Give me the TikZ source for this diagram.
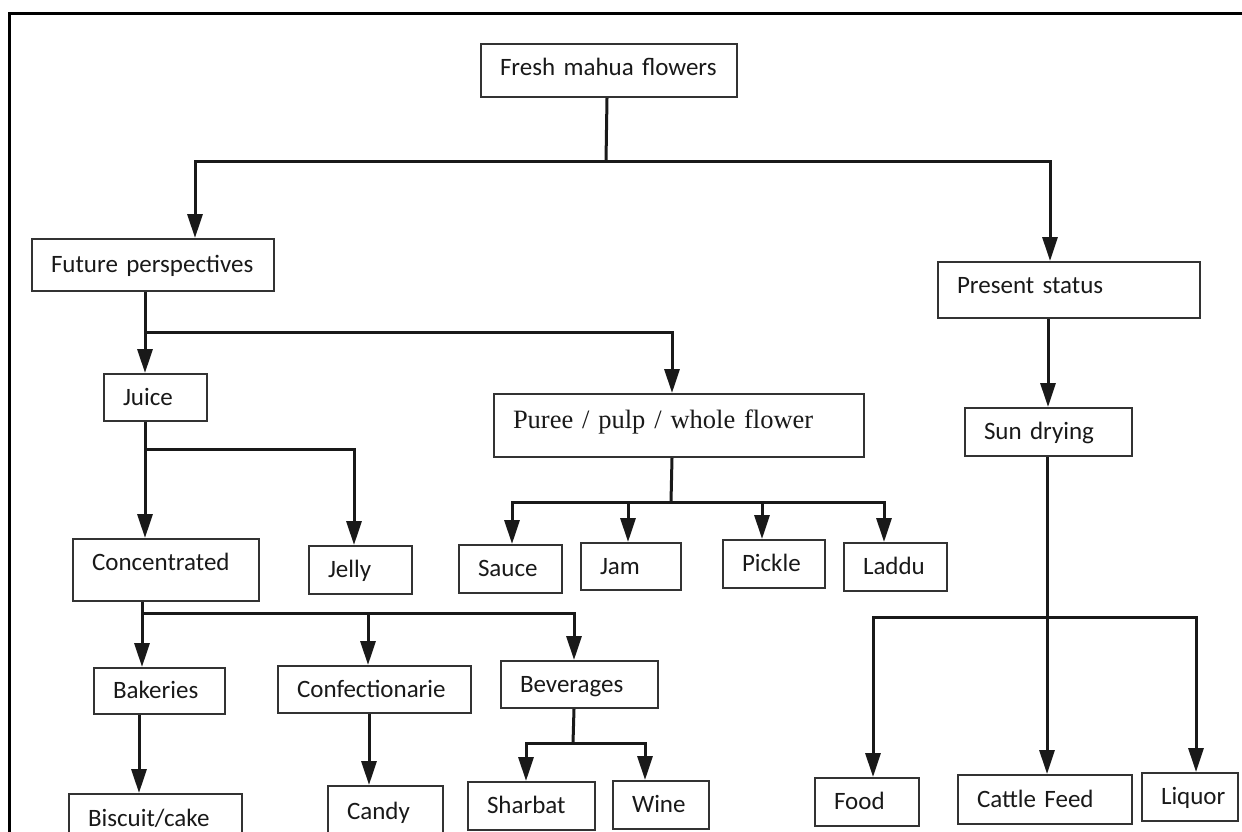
\documentclass[tikz,border=0pt]{standalone}
\usepackage{fontspec}
\setmainfont{Carlito}
\newfontfamily\pureefont{Liberation Serif}
\usepackage{tikz}
\usetikzlibrary{arrows.meta}
\tikzstyle{flowbox}=[draw=black!80, line width=2pt, anchor=north west, align=left, inner xsep=19pt, inner ysep=0pt, text=black!90, font=\fontsize{25}{30}\selectfont, text height=15.8pt, text depth=0pt]
\tikzstyle{trunk}=[line width=3pt, black!90]
\tikzstyle{arr}=[trunk, -{Triangle[length=24pt,width=15pt]}]

\begin{document}
\begin{tikzpicture}
        [x=1pt,y=-1pt]
            \useasboundingbox (0,0) rectangle (1242,831);
            \clip (0,0) rectangle (1242,831);
            \draw [line width=3pt] (9,860) -- (9,13) -- (1270,13);
            % top level
            \node [flowbox, text width=218pt, minimum height=53pt, text depth=6pt] (fresh) at (480,43) {Fresh mahua flowers};
            \node [flowbox, text width=204pt, minimum height=52pt] (future) at (31,238) {Future perspectives};
            \node [flowbox, text width=224pt, minimum height=56pt, text depth=8pt] (present) at (937,261) {Present status};
            % second level
            \node [flowbox, text width=65pt, minimum height=47pt] (juice) at (103,373) {Juice};
            \node [flowbox, text width=332pt, minimum height=63pt, font=\pureefont\fontsize{26.5}{31}\selectfont, text height=17.5pt, text depth=11pt] (puree) at (493,393) {Puree / pulp / whole flower};
            \node [flowbox, text width=129pt, minimum height=48pt] (sundry) at (964,407) {Sun drying};
            % third level
            \node [flowbox, text width=148pt, minimum height=62pt, text depth=14pt] (conc) at (72,538) {Concentrated};
            \node [flowbox, text width=65pt, minimum height=48pt] (jelly) at (308,545) {Jelly};
            \node [flowbox, text width=65pt, minimum height=48pt] (sauce) at (458,544) {Sauce};
            \node [flowbox, text width=62pt, minimum height=47pt] (jam) at (580,542) {Jam};
            \node [flowbox, text width=64pt, minimum height=48pt] (pickle) at (722,539) {Pickle};
            \node [flowbox, text width=65pt, minimum height=48pt] (laddu) at (843,542) {Laddu};
            % fourth level
            \node [flowbox, text width=93pt, minimum height=46pt] (bak) at (93,667) {Bakeries};
            \node [flowbox, text width=155pt, minimum height=47pt] (conf) at (277,665) {Confectionarie};
            \node [flowbox, text width=119pt, minimum height=47pt] (bev) at (500,660) {Beverages};
            % bottom level
            \node [flowbox, text width=135pt, minimum height=50pt] (bisc) at (68,793) {Biscuit/cake};
            \node [flowbox, text width=77pt, minimum height=51pt] (candy) at (327,785) {Candy};
            \node [flowbox, text width=89pt, minimum height=48pt] (sharbat) at (467,781) {Sharbat};
            \node [flowbox, text width=58pt, minimum height=48pt] (wine) at (612,780) {Wine};
            \node [flowbox, text width=66pt, minimum height=48pt] (food) at (814,777) {Food};
            \node [flowbox, text width=136pt, minimum height=49pt] (cattle) at (957,774) {Cattle Feed};
            \node [flowbox, text width=58pt, minimum height=48pt] (liquor) at (1141,772) {Liquor};
            % junctions
            \coordinate (jfresh) at (606,161);
            \coordinate (jfuture) at (144,332);
            \coordinate (jjuice) at (144,449);
            \coordinate (jpuree) at (671,502);
            \coordinate (jconc) at (141,613);
            \coordinate (jbev) at (573,743);
            \coordinate (jsun) at (1046,617);
            % connectors
            \draw [trunk] ([xshift=-2pt]fresh.south) -- (jfresh);
            \draw [arr] (jfresh) -| ([xshift=42pt]future.north);
            \draw [arr] (jfresh) -| ([xshift=-19pt]present.north);
            \draw [arr] ([xshift=-8pt]future.south) -- ([xshift=-10.5pt]juice.north);
            \draw [arr] (jfuture) -| ([xshift=-7pt]puree.north);
            \draw [arr] ([xshift=-21pt]present.south) -- ([xshift=-0.5pt]sundry.north);
            \draw [arr] ([xshift=-10.5pt]juice.south) -- ([xshift=-21pt]conc.north);
            \draw [arr] (jjuice) -| ([xshift=-6.5pt]jelly.north);
            \draw [trunk] ([xshift=-7pt]puree.south) -- (jpuree);
            \draw [arr] (jpuree) -| ([xshift=1.5pt]sauce.north);
            \draw [arr] (jpuree) -| ([xshift=-3pt]jam.north);
            \draw [arr] (jpuree) -| ([xshift=-12pt]pickle.north);
            \draw [arr] (jpuree) -| ([xshift=-11.5pt]laddu.north);
            \draw [arr] ([xshift=-24pt]conc.south) -- ([xshift=-17.5pt]bak.north);
            \draw [arr] (jconc) -| ([xshift=-6.5pt]conf.north);
            \draw [arr] (jconc) -| ([xshift=-5.5pt]bev.north);
            \draw [arr] ([xshift=-20.5pt]bak.south) -- ([xshift=-16.5pt]bisc.north);
            \draw [arr] ([xshift=-5.5pt]conf.south) -- ([xshift=-16.5pt]candy.north);
            \draw [trunk] ([xshift=-5.5pt]bev.south) -- (jbev);
            \draw [arr] (jbev) -| ([xshift=-5.5pt]sharbat.north);
            \draw [arr] (jbev) -| ([xshift=-16pt]wine.north);
            \draw [arr] ([xshift=-1.5pt]sundry.south) -- ([xshift=2pt]cattle.north);
            \draw [arr] (jsun) -| ([xshift=6pt]food.north);
            \draw [arr] (jsun) -| ([xshift=6pt]liquor.north);
        \end{tikzpicture}
\end{document}
